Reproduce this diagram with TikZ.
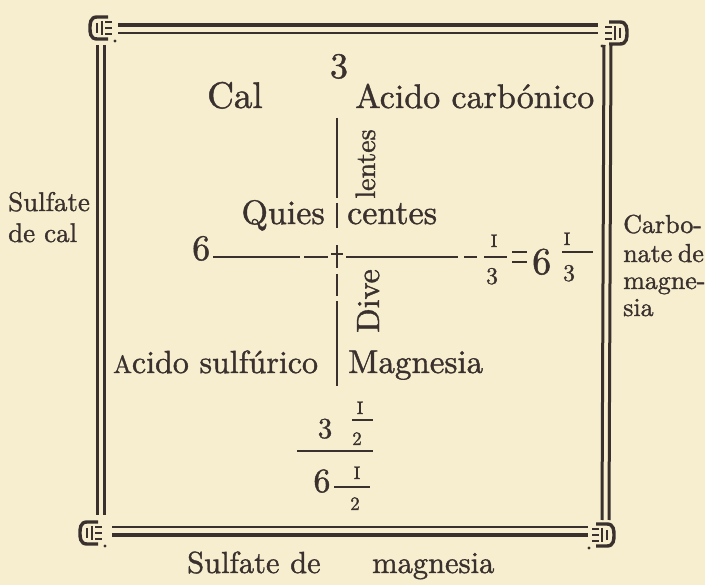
\documentclass[tikz,border=0pt]{standalone}
\usepackage{fontspec}
\usepackage{xcolor}
\newfontfamily\inkfont{lmroman10-regular.otf}[FakeBold=1.2]
\definecolor{paper}{HTML}{F6EECF}
\definecolor{ink}{HTML}{3A302E}
\newcommand{\fsz}[1]{\inkfont\fontsize{#1}{#1}\selectfont}
\tikzset{
  orn/.pic={
    \draw[ink, line width=3.4pt] (6,-11) -- (-5,-11) .. controls (-12,-11) and (-12,-4) .. (-12,0) .. controls (-12,4) and (-12,11) .. (-5,11) -- (6,11);
    \draw[ink, line width=2.4pt] (-5,-5) -- (-5,5) (0,-7) -- (0,7);
    \draw[ink, line width=2pt] (3,-6) -- (10,-6) (3,0) -- (10,0) (3,6) -- (10,6);
    \fill[ink] (13,13) circle (1.7);
  }
}
\begin{document}
\begin{tikzpicture}[x=1pt,y=-1pt,
  every node/.style={inner sep=0pt, text=ink},
  big/.style={font=\fsz{34}},
  botf/.style={font=\fsz{30.5}},
  side/.style={font=\fsz{26}},
  numer/.style={font=\fsz{18}},
  denom/.style={font=\fsz{24}},
  rulel/.style={draw=ink, line width=2.2pt},
  vline/.style={draw=ink, line width=2.6pt},
  framel/.style={draw=ink, line width=3pt}]
\fill[paper] (0,0) rectangle (705,585);
\useasboundingbox (0,0) rectangle (705,585);

% frame
\coordinate (tl1) at (118,25); \coordinate (tr1) at (598,25);
\coordinate (tl2) at (118,33); \coordinate (tr2) at (598,33);
\coordinate (bl1) at (112,527); \coordinate (br1) at (588,527);
\coordinate (bl2) at (112,535); \coordinate (br2) at (588,535);
\coordinate (lt1) at (97,45); \coordinate (lb1) at (97,515);
\coordinate (lt2) at (104,45); \coordinate (lb2) at (104,515);
\coordinate (rt1) at (604,45); \coordinate (rb1) at (602,520);
\coordinate (rt2) at (611,45); \coordinate (rb2) at (609,520);
\draw[framel, line width=3.6pt] (tl1) -- (tr1); \draw[framel, line width=2.2pt] (tl2) -- (tr2);
\draw[framel, line width=2.2pt] (bl1) -- (br1); \draw[framel, line width=3.6pt] (bl2) -- (br2);
\draw[framel] (lt1) -- (lb1); \draw[framel] (lt2) -- (lb2);
\draw[framel] (rt1) -- (rb1); \draw[framel] (rt2) -- (rb2);
\pic at (102,28) {orn};
\pic[xscale=-1] at (615,33) {orn};
\pic at (92,533) {orn};
\pic[xscale=-1] at (602,535) {orn};

% texts
\node[big, font=\fsz{36}, anchor=base] (top3) at (339,78) {3};
\node[big, font=\fsz{37}, anchor=base west] (cal) at (207,108) {Cal};
\node[big, anchor=base west] (acarb) at (355,108) {Acido carbónico};
\node[big, font=\fsz{28}, anchor=base, rotate=90] (lentes) at (375,164) {lentes};
\node[big, anchor=base east] (quies) at (325,224) {Quies};
\node[big, anchor=base west] (centes) at (347,224) {centes};
\node[big, font=\fsz{36}, anchor=base west] (six) at (192,260) {6};
\node[big, font=\fsz{32}, anchor=base, rotate=90] (dive) at (379,301) {Dive};
\node[big, font=\fsz{32}, anchor=base west] (asulf) at (113,373) {{\fsz{25}A}cido sulfúrico};
\node[big, font=\fsz{33}, anchor=base west] (magn) at (348,373) {Magnesia};

% cross
\coordinate (va) at (337,118); \coordinate (vb) at (337,198);
\coordinate (vc) at (337,203); \coordinate (vd) at (337,228);
\coordinate (ve) at (337,245); \coordinate (vf) at (337,268);
\coordinate (vg) at (337,274); \coordinate (vh) at (337,296);
\coordinate (vi) at (337,301); \coordinate (vj) at (337,386);
\draw[vline] (va) -- (vb); \draw[vline] (vc) -- (vd);
\draw[rulel, line width=1.4pt] (ve) -- (vf);
\draw[vline] (vg) -- (vh); \draw[vline] (vi) -- (vj);
\coordinate (ha) at (213,257); \coordinate (hb) at (300,257);
\coordinate (hc) at (304,257); \coordinate (hd) at (328,257);
\coordinate (cx1) at (331,254); \coordinate (cx2) at (343,254);
\coordinate (he) at (346,257); \coordinate (hf) at (458,257);
\coordinate (hg) at (464,257); \coordinate (hh) at (477,257);
\draw[rulel] (ha) -- (hb); \draw[rulel] (hc) -- (hd);
\draw[rulel, line width=1.4pt] (cx1) -- (cx2);
\draw[rulel] (he) -- (hf); \draw[rulel] (hg) -- (hh);

% first fraction 1/3
\node[numer, anchor=base] (n1) at (494,247) {I};
\coordinate (f1a) at (484,257); \coordinate (f1b) at (507,257);
\draw[rulel] (f1a) -- (f1b);
\node[denom, anchor=base] (d1) at (492,284) {3};
% equals
\coordinate (e1) at (512,252); \coordinate (e2) at (527,252);
\coordinate (e3) at (512,262); \coordinate (e4) at (527,262);
\draw[rulel] (e1) -- (e2); \draw[rulel] (e3) -- (e4);
% 6 1/3
\node[big, anchor=base west, font=\fsz{38}] (six2) at (532,274) {6};
\node[numer, anchor=base] (n2) at (567,245) {I};
\coordinate (f2a) at (562,252); \coordinate (f2b) at (593,252);
\draw[rulel] (f2a) -- (f2b);
\node[denom, anchor=base] (d2) at (569,281) {3};

% bottom fraction
\node[font=\fsz{29}, anchor=base] (b3) at (325,438) {3};
\node[numer, anchor=base] (bn1) at (360,414) {I};
\coordinate (bf1a) at (352,420); \coordinate (bf1b) at (373,420);
\draw[rulel, line width=1.6pt] (bf1a) -- (bf1b);
\node[font=\fsz{19}, anchor=base] (bd1) at (357,445) {2};
\coordinate (bma) at (297,451); \coordinate (bmb) at (373,451);
\draw[rulel] (bma) -- (bmb);
\node[font=\fsz{34}, anchor=base] (b6) at (322,492) {6};
\coordinate (bf2a) at (334,487); \coordinate (bf2b) at (370,487);
\draw[rulel, line width=1.6pt] (bf2a) -- (bf2b);
\node[numer, anchor=base] (bn2) at (357,479) {I};
\node[font=\fsz{19}, anchor=base] (bd2) at (355,510) {2};

% side texts
\node[side, font=\fsz{27}, anchor=base west] (sc1) at (8,211) {Sulfate};
\node[side, font=\fsz{27}, anchor=base west] (sc2) at (8,242) {de cal};
\node[side, anchor=base west] (cm1) at (623,233) {Carbo-};
\node[side, anchor=base west] (cm2) at (623,262) {nate\hspace{-3pt} de};
\node[side, anchor=base west] (cm3) at (623,289) {magne-};
\node[side, anchor=base west] (cm4) at (623,316) {sia};

% bottom caption
\node[botf, anchor=base west] (sm1) at (187,573) {Sulfate};
\node[botf, anchor=base west] (sm2) at (290,573) {de};
\node[botf, anchor=base west] (sm3) at (372,573) {magnesia};
\end{tikzpicture}
\end{document}
